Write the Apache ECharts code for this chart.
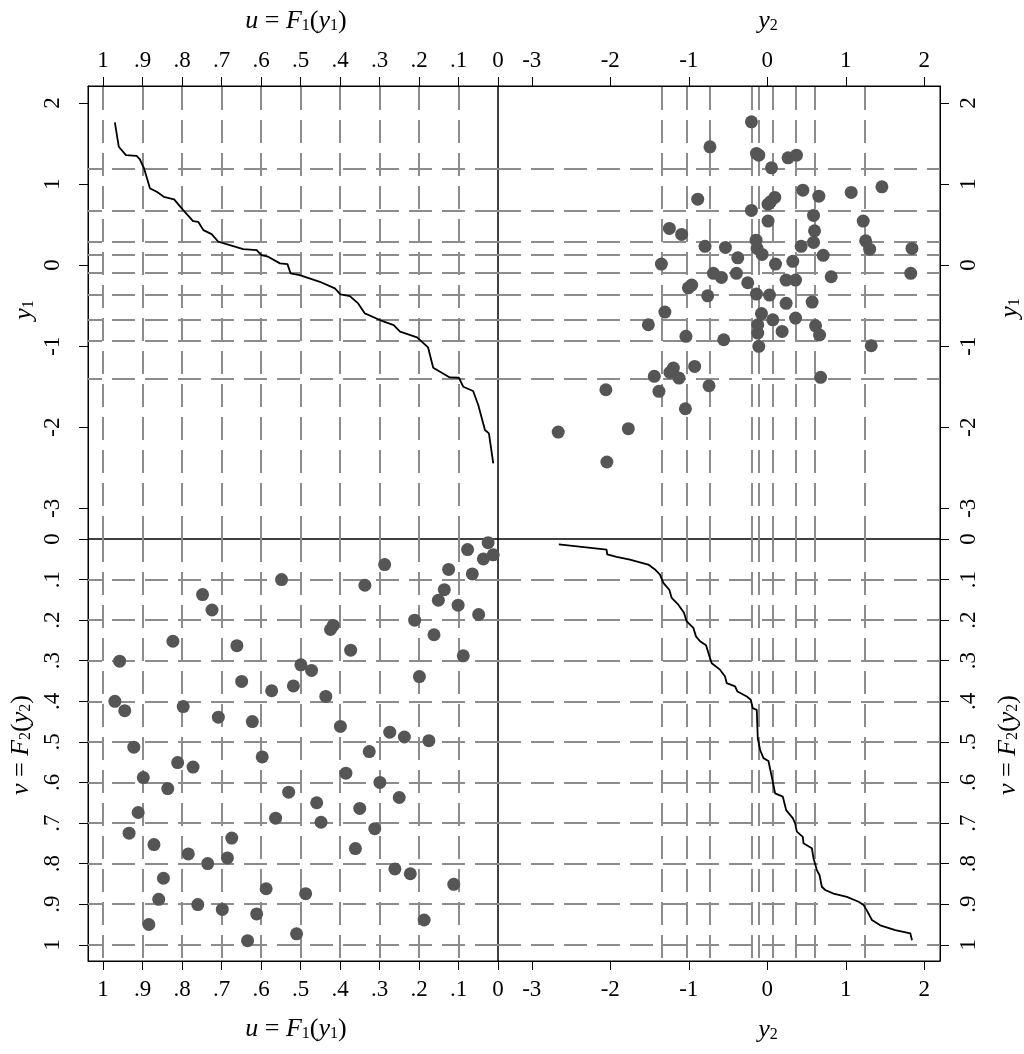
<!DOCTYPE html>
<html><head><meta charset="utf-8">
<script src="https://cdn.jsdelivr.net/npm/echarts@6/dist/echarts.min.js"></script>
<style>html,body{margin:0;padding:0;background:#fff}#c{width:1024px;height:1054px}</style>
</head><body><div id="c"></div>
<script>
// ---------- tick values and labels ----------
const uTicks = [1, 0.9, 0.8, 0.7, 0.6, 0.5, 0.4, 0.3, 0.2, 0.1, 0];
const uTickLabels = ['1', '.9', '.8', '.7', '.6', '.5', '.4', '.3', '.2', '.1', '0'];
const vTicks = [0, 0.1, 0.2, 0.3, 0.4, 0.5, 0.6, 0.7, 0.8, 0.9, 1];
const vTickLabels = ['0', '.1', '.2', '.3', '.4', '.5', '.6', '.7', '.8', '.9', '1'];
const y1Ticks = [2, 1, 0, -1, -2, -3];
const y1TickLabels = ['2', '1', '0', '-1', '-2', '-3'];
const y2Ticks = [-3, -2, -1, 0, 1, 2];
const y2TickLabels = ['-3', '-2', '-1', '0', '1', '2'];

// ---------- dashed reference lines ----------
const uGridLines = [1, 0.9, 0.8, 0.7, 0.6, 0.5, 0.4, 0.3, 0.2, 0.1];
const vGridLines = [0.1, 0.2, 0.3, 0.4, 0.5, 0.6, 0.7, 0.8, 0.9, 1];
const y1Quantiles = [1.192, 0.666, 0.287, 0.132, -0.102, -0.358, -0.678, -0.925, -1.397];
const y2Quantiles = [-1.355, -1.027, -0.730, -0.198, -0.112, 0.070, 0.364, 0.602, 1.240];

// ---------- top-right scatter: (y2, y1) ----------
const scatterY2 = [-0.730, -0.886, -1.247, -1.091, -0.793, -1.349, -0.686, -0.963, -1.005, -0.759,
  -1.304, -0.202, -0.138, -0.108, 0.265, 0.372, 0.054, 0.453, 0.657, 1.069,
  1.460, 0.096, 0.041, 0.010, -0.202, 0.010, 0.589, 1.222, 0.602, 0.589,
  -0.533, -0.376, -0.143, -0.130, -0.066, 0.431, 0.712, 0.105, 0.325, 1.253,
  1.304, 1.843, -0.584, -0.393, -0.249, 0.240, 0.360, 0.814, 1.827, -0.138,
  0.028, 0.240, 0.571, -0.074, 0.360, 0.070, -0.121, -0.121, 0.189, 0.615,
  0.666, -0.555, -0.108, 1.324, 0.679, -1.515, -1.036, -1.196, -1.240, -1.125,
  -1.439, -0.925, -1.380, -0.742, -2.056, -1.043, -2.663, -1.770, -2.043];
const scatterY1 = [1.459, 0.814, 0.453, 0.379, 0.231, 0.012, -0.102, -0.247, -0.280, -0.379,
  -0.580, 1.768, 1.378, 1.357, 1.324, 1.357, 1.200, 0.925, 0.851, 0.897,
  0.966, 0.835, 0.781, 0.752, 0.675, 0.543, 0.613, 0.543, 0.423, 0.280,
  0.218, 0.090, 0.308, 0.206, 0.132, 0.231, 0.120, 0.012, 0.046, 0.300,
  0.197, 0.206, -0.152, -0.102, -0.218, -0.185, -0.185, -0.144, -0.102, -0.358,
  -0.370, -0.472, -0.456, -0.598, -0.654, -0.675, -0.736, -0.839, -0.818, -0.749,
  -0.863, -0.921, -1.003, -0.995, -1.385, -0.736, -0.879, -1.271, -1.324, -1.394,
  -1.373, -1.250, -1.558, -1.489, -1.538, -1.773, -2.060, -2.019, -2.430];

// ---------- bottom-left scatter: (u, v) ----------
const scatterU = [0.548, 0.748, 0.724, 0.823, 0.661, 0.958, 0.649, 0.573, 0.970, 0.945,
  0.797, 0.708, 0.622, 0.922, 0.077, 0.025, 0.037, 0.012, 0.125, 0.065,
  0.287, 0.337, 0.136, 0.151, 0.101, 0.049, 0.211, 0.162, 0.417, 0.424,
  0.373, 0.088, 0.499, 0.472, 0.199, 0.518, 0.436, 0.399, 0.274, 0.237,
  0.175, 0.326, 0.811, 0.772, 0.597, 0.898, 0.836, 0.530, 0.911, 0.563,
  0.934, 0.871, 0.784, 0.735, 0.674, 0.685, 0.847, 0.587, 0.859, 0.760,
  0.698, 0.611, 0.884, 0.634, 0.385, 0.299, 0.459, 0.350, 0.250, 0.448,
  0.312, 0.361, 0.261, 0.222, 0.112, 0.487, 0.187, 0.510];
const scatterV = [0.100, 0.137, 0.175, 0.252, 0.263, 0.301, 0.351, 0.374, 0.400, 0.423,
  0.413, 0.439, 0.450, 0.513, 0.026, 0.009, 0.049, 0.039, 0.075, 0.086,
  0.063, 0.114, 0.125, 0.151, 0.163, 0.186, 0.200, 0.236, 0.213, 0.223,
  0.274, 0.288, 0.310, 0.324, 0.339, 0.362, 0.388, 0.462, 0.476, 0.488,
  0.497, 0.524, 0.551, 0.562, 0.537, 0.588, 0.615, 0.624, 0.674, 0.688,
  0.725, 0.753, 0.776, 0.800, 0.737, 0.786, 0.836, 0.862, 0.888, 0.901,
  0.913, 0.924, 0.950, 0.990, 0.577, 0.600, 0.650, 0.664, 0.637, 0.698,
  0.714, 0.763, 0.813, 0.825, 0.851, 0.874, 0.939, 0.973];

// ---------- top-left curve: (u, y1) ----------
const curveU = [0.970, 0.960, 0.942, 0.915, 0.907, 0.896, 0.881, 0.864, 0.846, 0.820,
  0.797, 0.772, 0.759, 0.746, 0.725, 0.708, 0.679, 0.645, 0.611, 0.599,
  0.582, 0.552, 0.533, 0.525, 0.502, 0.451, 0.413, 0.399, 0.375, 0.354,
  0.337, 0.299, 0.264, 0.248, 0.205, 0.177, 0.164, 0.122, 0.099, 0.088,
  0.063, 0.050, 0.033, 0.023, 0.012];
const curveY1 = [1.760, 1.460, 1.357, 1.349, 1.307, 1.192, 0.946, 0.905, 0.843, 0.810,
  0.678, 0.543, 0.534, 0.432, 0.382, 0.288, 0.247, 0.197, 0.185, 0.123,
  0.103, 0.021, 0.012, -0.103, -0.123, -0.206, -0.288, -0.362, -0.382, -0.473,
  -0.596, -0.678, -0.740, -0.822, -0.892, -1.016, -1.266, -1.386, -1.390, -1.501,
  -1.554, -1.727, -2.035, -2.076, -2.446];

// ---------- bottom-right curve: (y2, v) ----------
const curveY2 = [-2.655, -2.047, -2.039, -1.920, -1.750, -1.516, -1.431, -1.367, -1.324, -1.248,
  -1.218, -1.133, -1.061, -1.027, -0.942, -0.908, -0.857, -0.780, -0.750, -0.708,
  -0.602, -0.538, -0.517, -0.410, -0.380, -0.261, -0.210, -0.185, -0.134, -0.121,
  -0.091, -0.049, 0.015, 0.057, 0.100, 0.198, 0.240, 0.325, 0.355, 0.376,
  0.453, 0.461, 0.568, 0.589, 0.631, 0.665, 0.695, 0.738, 0.844, 1.014,
  1.163, 1.227, 1.278, 1.333, 1.439, 1.630, 1.822, 1.843];
const curveV = [0.013, 0.026, 0.038, 0.044, 0.051, 0.063, 0.075, 0.088, 0.108, 0.125,
  0.145, 0.162, 0.182, 0.203, 0.219, 0.240, 0.252, 0.262, 0.281, 0.306,
  0.322, 0.339, 0.355, 0.363, 0.376, 0.388, 0.396, 0.417, 0.421, 0.491,
  0.520, 0.540, 0.547, 0.586, 0.627, 0.635, 0.668, 0.688, 0.701, 0.721,
  0.734, 0.750, 0.762, 0.787, 0.816, 0.828, 0.857, 0.865, 0.874, 0.882,
  0.894, 0.902, 0.919, 0.939, 0.952, 0.964, 0.972, 0.989];

// ---------- rendering ----------
const FONT = 'Liberation Serif';
const FS = 23;
const zip = (a, b) => a.map((v, i) => [v, b[i]]);
const labelFor = (ticks, labels) => (v) => {
  for (let i = 0; i < ticks.length; i++) if (Math.abs(ticks[i] - v) < 1e-6) return labels[i];
  return '';
};

function valAxis(o) {
  return {
    type: 'value', gridIndex: o.grid, min: o.min, max: o.max, inverse: !!o.inverse, position: o.pos,
    axisLine: { show: true, onZero: false, lineStyle: { color: '#000', width: 1 } },
    axisTick: { show: true, inside: false, length: 9, customValues: o.ticks, lineStyle: { color: '#000', width: 1 } },
    axisLabel: {
      show: true, customValues: o.ticks, formatter: labelFor(o.ticks, o.labels),
      rotate: o.rotate || 0, margin: o.margin, color: '#000', fontFamily: FONT, fontSize: FS,
      showMinLabel: true, showMaxLabel: true, hideOverlap: false
    },
    splitLine: { show: false }, splitArea: { show: false }
  };
}

const xAxes = [
  valAxis({ grid: 0, min: 0, max: 1.038, inverse: true, pos: 'top', ticks: uTicks, labels: uTickLabels, margin: 14 }),
  valAxis({ grid: 1, min: -3.43, max: 2.20, pos: 'top', ticks: y2Ticks, labels: y2TickLabels, margin: 14 }),
  valAxis({ grid: 2, min: 0, max: 1.038, inverse: true, pos: 'bottom', ticks: uTicks, labels: uTickLabels, margin: 17 }),
  valAxis({ grid: 3, min: -3.43, max: 2.20, pos: 'bottom', ticks: y2Ticks, labels: y2TickLabels, margin: 17 })
];
const yAxes = [
  valAxis({ grid: 0, min: -3.38, max: 2.21, pos: 'left', ticks: y1Ticks, labels: y1TickLabels, rotate: 90, margin: 24 }),
  valAxis({ grid: 1, min: -3.38, max: 2.21, pos: 'right', ticks: y1Ticks, labels: y1TickLabels, rotate: 90, margin: 17 }),
  valAxis({ grid: 2, min: 0, max: 1.04, inverse: true, pos: 'left', ticks: vTicks, labels: vTickLabels, rotate: 90, margin: 24 }),
  valAxis({ grid: 3, min: 0, max: 1.04, inverse: true, pos: 'right', ticks: vTicks, labels: vTickLabels, rotate: 90, margin: 17 })
];

const dashStyle = { color: '#8c8c8c', width: 2, type: [23, 10] };
function refLines(idx, xs, ys) {
  const data = xs.map(v => ({ xAxis: v })).concat(ys.map(v => ({ yAxis: v })));
  return {
    type: 'line', xAxisIndex: idx, yAxisIndex: idx, data: [], z: 1, silent: true,
    markLine: { silent: true, symbol: ['none', 'none'], label: { show: false }, lineStyle: dashStyle,
      emphasis: { disabled: true }, animation: false, data: data }
  };
}

const TF = 26;
const rich = {
  i: { fontFamily: FONT, fontStyle: 'italic', fontSize: TF, lineHeight: 30, verticalAlign: 'bottom', fill: '#000', color: '#000' },
  r: { fontFamily: FONT, fontSize: TF, lineHeight: 30, verticalAlign: 'bottom', fill: '#000', color: '#000' },
  s: { fontFamily: FONT, fontSize: 16, lineHeight: 13, verticalAlign: 'bottom', fill: '#000', color: '#000' }
};
const uTitle = '{i|u}{r| = }{i|F}{s|1}{r|(}{i|y}{s|1}{r|)}';
const vTitle = '{i|v}{r| = }{i|F}{s|2}{r|(}{i|y}{s|2}{r|)}';
const y1Title = '{i|y}{s|1}';
const y2Title = '{i|y}{s|2}';
function title(text, x, y, rot) {
  return { type: 'text', x: x, y: y, rotation: rot || 0, silent: true,
    style: { text: text, rich: rich, align: 'center', verticalAlign: 'middle', fill: '#000', font: TF + 'px ' + FONT } };
}

const option = {
  animation: false,
  backgroundColor: '#fff',
  grid: [
    { left: 88, top: 86, width: 410, height: 453, show: true, borderColor: '#000', borderWidth: 1, backgroundColor: 'transparent' },
    { left: 498, top: 86, width: 442, height: 453, show: true, borderColor: '#000', borderWidth: 1, backgroundColor: 'transparent' },
    { left: 88, top: 539, width: 410, height: 422, show: true, borderColor: '#000', borderWidth: 1, backgroundColor: 'transparent' },
    { left: 498, top: 539, width: 442, height: 422, show: true, borderColor: '#000', borderWidth: 1, backgroundColor: 'transparent' }
  ],
  xAxis: xAxes,
  yAxis: yAxes,
  graphic: [
    title(uTitle, 296, 19), title(y2Title, 768, 19),
    title(uTitle, 296, 1027), title(y2Title, 768, 1028),
    title(y1Title, 22, 310, Math.PI / 2), title(vTitle, 19, 745, Math.PI / 2),
    title(y1Title, 1008, 308, Math.PI / 2), title(vTitle, 1006, 745, Math.PI / 2)
  ],
  series: [
    refLines(0, uGridLines, y1Quantiles),
    refLines(1, y2Quantiles, y1Quantiles),
    refLines(2, uGridLines, vGridLines),
    refLines(3, y2Quantiles, vGridLines),
    { type: 'line', xAxisIndex: 0, yAxisIndex: 0, data: zip(curveU, curveY1), showSymbol: false, symbol: 'none',
      lineStyle: { color: '#000', width: 1.8 }, z: 5, silent: true },
    { type: 'scatter', xAxisIndex: 1, yAxisIndex: 1, data: zip(scatterY2, scatterY1), symbol: 'circle', symbolSize: 13,
      itemStyle: { color: '#555555', opacity: 1 }, z: 5, silent: true },
    { type: 'scatter', xAxisIndex: 2, yAxisIndex: 2, data: zip(scatterU, scatterV), symbol: 'circle', symbolSize: 13,
      itemStyle: { color: '#555555', opacity: 1 }, z: 5, silent: true },
    { type: 'line', xAxisIndex: 3, yAxisIndex: 3, data: zip(curveY2, curveV), showSymbol: false, symbol: 'none',
      lineStyle: { color: '#000', width: 1.8 }, z: 5, silent: true }
  ]
};
const chart = echarts.init(document.getElementById('c'), null, { renderer: 'canvas' });
chart.setOption(option);
</script></body></html>
